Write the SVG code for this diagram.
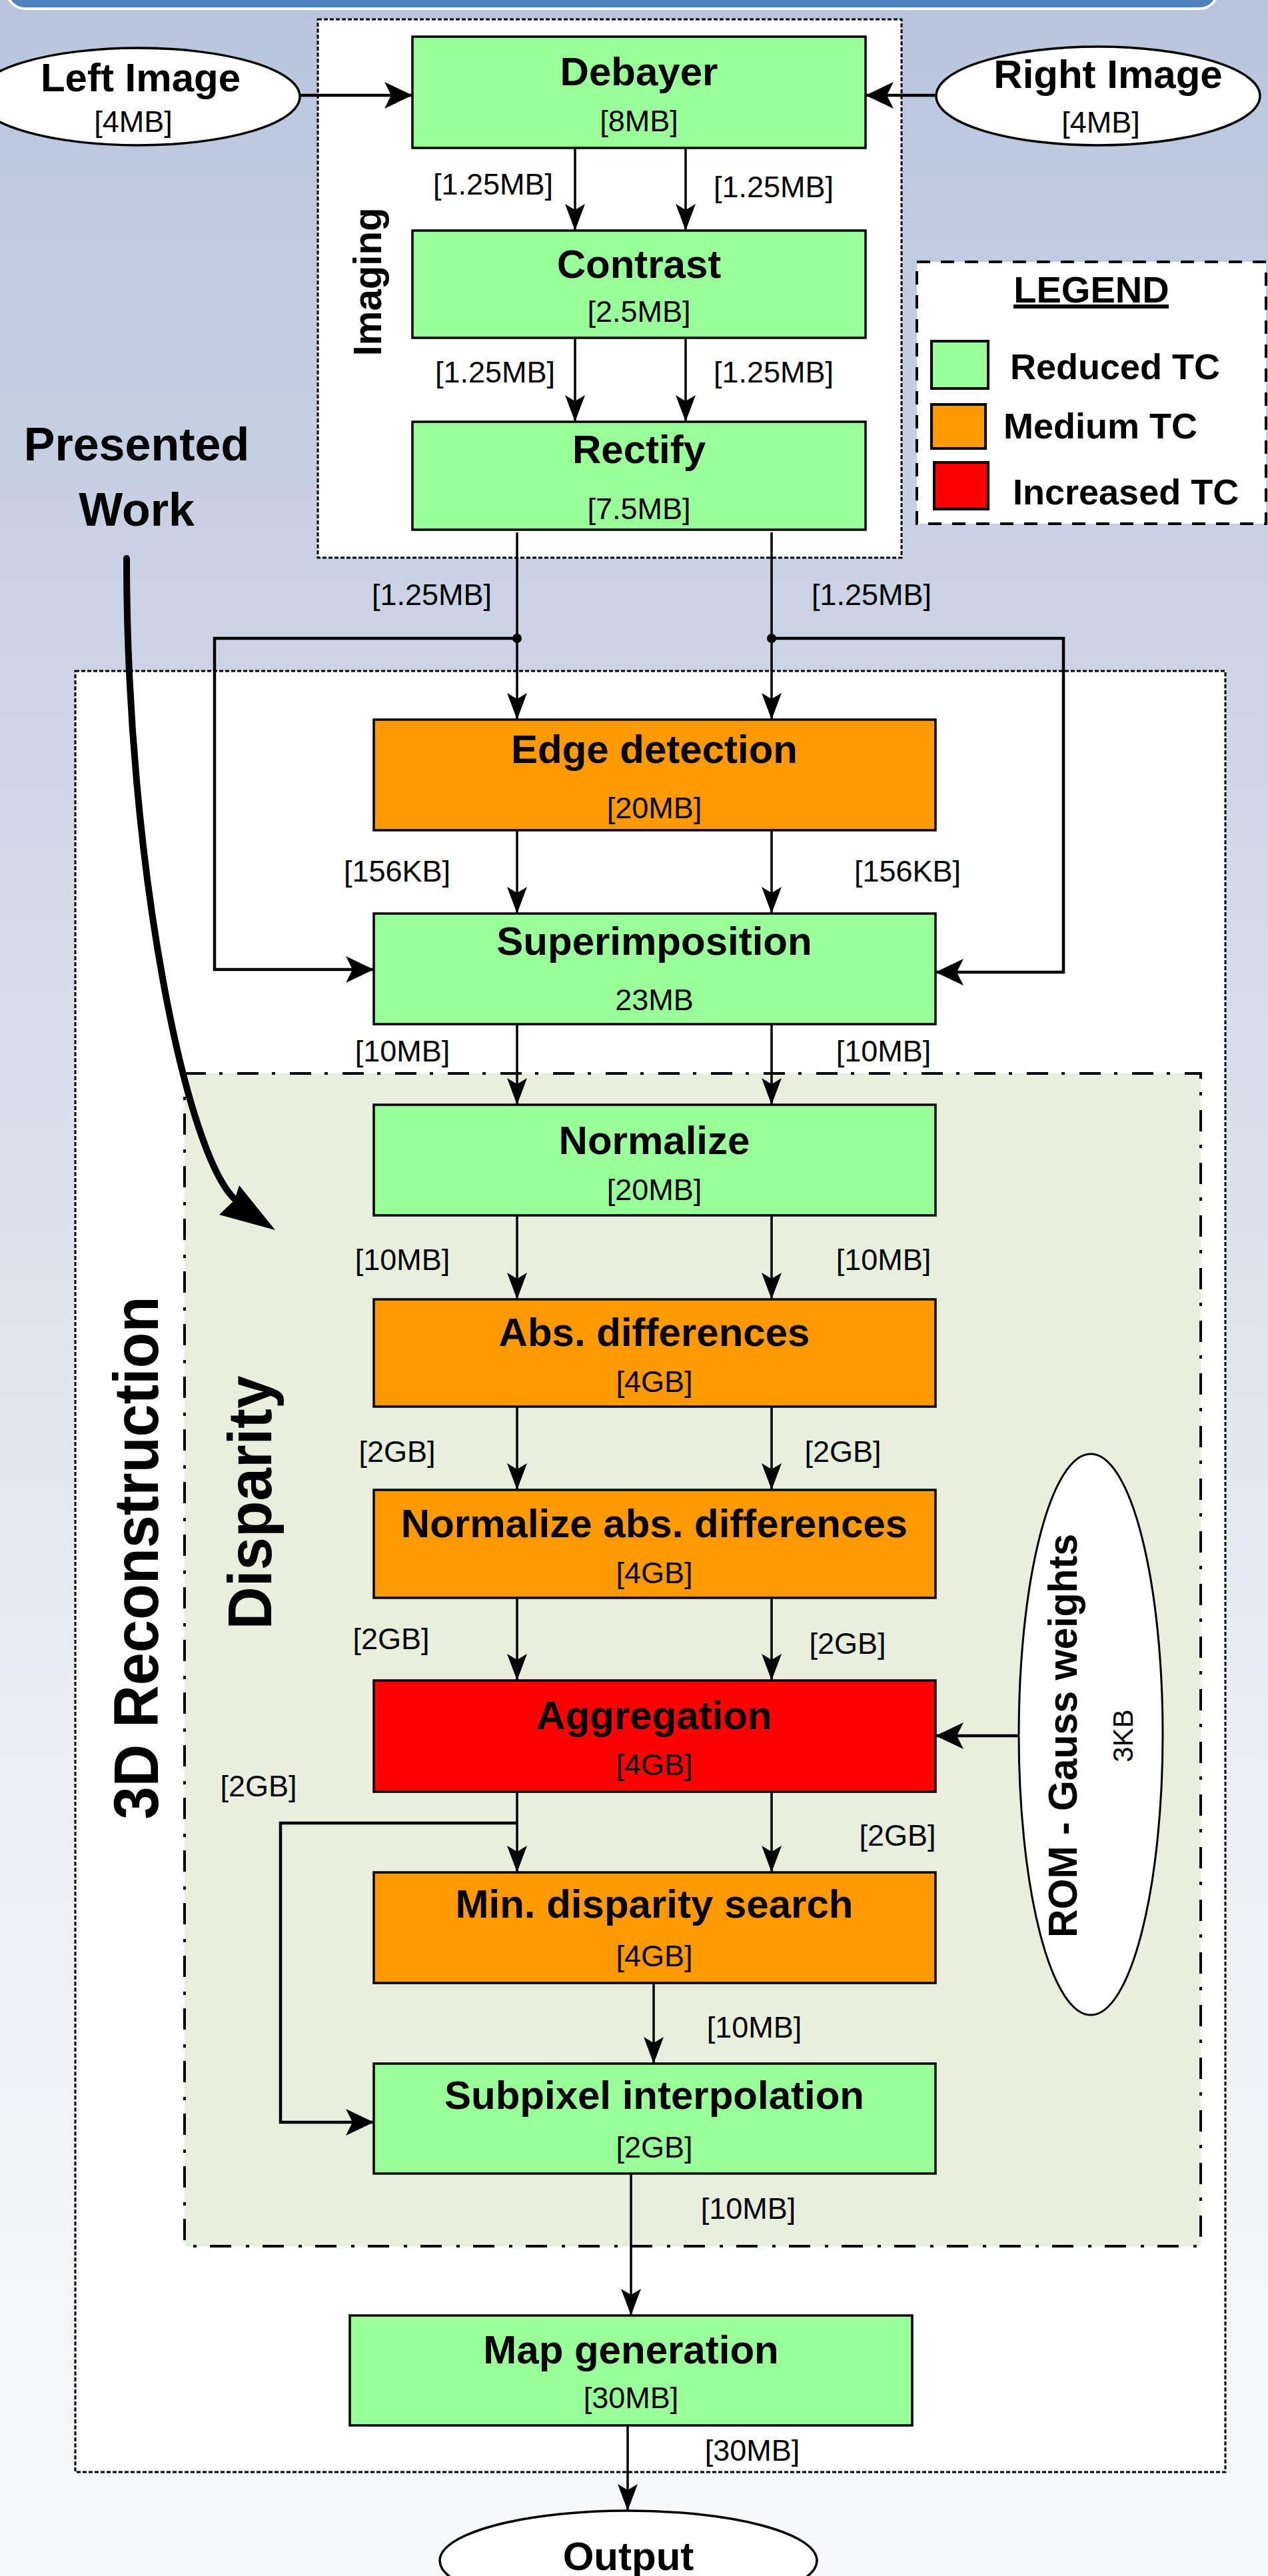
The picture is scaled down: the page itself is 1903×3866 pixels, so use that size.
<svg xmlns="http://www.w3.org/2000/svg" width="1903" height="3866" viewBox="0 0 1903 3866">
<style>
.box{stroke:#000;stroke-width:3.5}
.g{fill:#99ff99}.o{fill:#ff9900}.r{fill:#ff0000}
.t{font-family:"Liberation Sans",Arial,sans-serif;font-weight:bold;font-size:60px;text-anchor:middle;fill:#000}
.s{font-family:"Liberation Sans",Arial,sans-serif;font-size:45px;text-anchor:middle;fill:#000}
.lg{font-family:"Liberation Sans",Arial,sans-serif;font-weight:bold;font-size:54px;fill:#000}
.vt{font-family:"Liberation Sans",Arial,sans-serif;font-weight:bold;text-anchor:middle;fill:#000}
.ln{fill:none;stroke:#000;stroke-width:3.5;marker-end:url(#ah)}
.lt{fill:none;stroke:#000;stroke-width:4.5;marker-end:url(#ahb)}
.cont{fill:#fff;stroke:#000;stroke-width:3;stroke-dasharray:6 3}
.ell{fill:#fff;stroke:#000;stroke-width:3.5}
</style>
<defs>
<linearGradient id="bg" x1="0" y1="0" x2="0" y2="1">
<stop offset="0" stop-color="#b8c5dd"/>
<stop offset="0.35" stop-color="#d3dae8"/>
<stop offset="0.7" stop-color="#eceff5"/>
<stop offset="1" stop-color="#f8f9fb"/>
</linearGradient>
<marker id="ah" viewBox="-42 -17 44 34" markerWidth="44" markerHeight="34" refX="0" refY="0" orient="auto" markerUnits="userSpaceOnUse">
<path d="M0,0 L-40,-15 L-31,0 L-40,15 Z" fill="#000"/>
</marker>
<marker id="ahb" viewBox="-46 -23 48 46" markerWidth="48" markerHeight="46" refX="0" refY="0" orient="auto" markerUnits="userSpaceOnUse">
<path d="M0,0 L-42,-20 L-32,0 L-42,20 Z" fill="#000"/>
</marker>
</defs>

<rect x="0" y="0" width="1903" height="3866" fill="url(#bg)"/>
<rect x="10" y="-60" width="1818" height="73" rx="28" fill="#4f81bd" stroke="#fff" stroke-width="4"/>

<!-- containers -->
<g id="imaging-group">
<rect class="cont" x="477" y="29" width="876" height="808"/>
<text class="vt" style="font-size:60px" transform="translate(572,423) rotate(-90)" textLength="223" lengthAdjust="spacingAndGlyphs">Imaging</text>
</g>
<g id="reconstruction-group">
<rect class="cont" x="113" y="1007" width="1726" height="2703"/>
<text class="vt" style="font-size:95px" transform="translate(237,2338) rotate(-90)" textLength="785" lengthAdjust="spacingAndGlyphs">3D Reconstruction</text>
</g>
<g id="disparity-group">
<rect x="277" y="1611" width="1525" height="1760" fill="#e9efdd" stroke="#000" stroke-width="4" stroke-dasharray="32 20 5 22"/>
<text class="vt" style="font-size:92px" transform="translate(407,2255) rotate(-90)" textLength="381" lengthAdjust="spacingAndGlyphs">Disparity</text>
</g>

<g id="legend">
<rect x="1376" y="393" width="524" height="393" fill="#fff" stroke="#000" stroke-width="4" stroke-dasharray="20 16"/>
<text class="t" x="1638" y="454" style="font-size:56px">LEGEND</text>
<rect x="1521" y="457" width="233" height="6" fill="#000"/>
<rect x="1398" y="512" width="85" height="71" fill="#99ff99" stroke="#000" stroke-width="4"/>
<rect x="1398" y="607" width="81" height="66" fill="#ff9900" stroke="#000" stroke-width="4"/>
<rect x="1402" y="694" width="81" height="70" fill="#ff0000" stroke="#000" stroke-width="4"/>
<text class="lg" x="1516" y="569">Reduced TC</text>
<text class="lg" x="1506" y="658">Medium TC</text>
<text class="lg" x="1520" y="757">Increased TC</text>
</g>

<g id="presented-work">
<text class="t" x="205" y="691" style="font-size:70px">Presented</text>
<text class="t" x="205" y="789" style="font-size:70px">Work</text>
<path d="M190,838 C190,1300 280,1740 355,1802" fill="none" stroke="#000" stroke-width="10" stroke-linecap="round"/>
<polygon points="413,1846 359,1779 352,1801 329,1823" fill="#000"/>
</g>

<!-- connectors -->
<g id="connectors">
<path class="lt" d="M451,143 L619,143"/>
<path class="lt" d="M1405,143 L1299,143"/>
<path class="ln" d="M863,222 L863,346"/>
<path class="ln" d="M1029,222 L1029,346"/>
<path class="ln" d="M863,507 L863,633"/>
<path class="ln" d="M1029,507 L1029,633"/>
<path class="ln" d="M776,799 L776,1080"/>
<path class="ln" d="M1158,799 L1158,1080"/>
<path class="lt" d="M776,958 L322,958 L322,1455 L561,1455"/>
<path class="lt" d="M1158,958 L1596,958 L1596,1459 L1404,1459"/>
<circle cx="776" cy="958" r="7" fill="#000"/>
<circle cx="1158" cy="958" r="7" fill="#000"/>
<path class="ln" d="M776,1246 L776,1371"/>
<path class="ln" d="M1158,1246 L1158,1371"/>
<path class="ln" d="M776,1537 L776,1658"/>
<path class="ln" d="M1158,1537 L1158,1658"/>
<path class="ln" d="M776,1824 L776,1950"/>
<path class="ln" d="M1158,1824 L1158,1950"/>
<path class="ln" d="M776,2111 L776,2236"/>
<path class="ln" d="M1158,2111 L1158,2236"/>
<path class="ln" d="M776,2398 L776,2522"/>
<path class="ln" d="M1158,2398 L1158,2522"/>
<path class="ln" d="M776,2689 L776,2810"/>
<path class="ln" d="M1158,2689 L1158,2810"/>
<path class="lt" d="M776,2736 L421,2736 L421,3185 L561,3185"/>
<path class="lt" d="M1530,2605 L1404,2605"/>
<path class="ln" d="M981,2976 L981,3097"/>
<path class="ln" d="M947,3262 L947,3475"/>
<path class="ln" d="M942,3640 L942,3768"/>
<text class="s" x="740" y="292">[1.25MB]</text>
<text class="s" x="1161" y="296">[1.25MB]</text>
<text class="s" x="743" y="574">[1.25MB]</text>
<text class="s" x="1161" y="574">[1.25MB]</text>
<text class="s" x="648" y="908">[1.25MB]</text>
<text class="s" x="1308" y="908">[1.25MB]</text>
<text class="s" x="596" y="1323">[156KB]</text>
<text class="s" x="1362" y="1323">[156KB]</text>
<text class="s" x="604" y="1593">[10MB]</text>
<text class="s" x="1326" y="1593">[10MB]</text>
<text class="s" x="604" y="1906">[10MB]</text>
<text class="s" x="1326" y="1906">[10MB]</text>
<text class="s" x="596" y="2194">[2GB]</text>
<text class="s" x="1265" y="2194">[2GB]</text>
<text class="s" x="587" y="2475">[2GB]</text>
<text class="s" x="1272" y="2482">[2GB]</text>
<text class="s" x="388" y="2696">[2GB]</text>
<text class="s" x="1347" y="2770">[2GB]</text>
<text class="s" x="1132" y="3058">[10MB]</text>
<text class="s" x="1123" y="3330">[10MB]</text>
<text class="s" x="1129" y="3693">[30MB]</text>
</g>

<!-- nodes -->
<g id="left-image">
<ellipse class="ell" cx="207" cy="145" rx="243" ry="73"/>
<text class="t" x="211" y="137">Left Image</text>
<text class="s" x="200" y="198">[4MB]</text>
</g>
<g id="right-image">
<ellipse class="ell" cx="1648" cy="144" rx="243" ry="74"/>
<text class="t" x="1663" y="132">Right Image</text>
<text class="s" x="1652" y="199">[4MB]</text>
</g>
<g id="debayer">
<rect class="box g" x="619" y="55" width="680" height="167"/>
<text class="t" x="959" y="128">Debayer</text>
<text class="s" x="959" y="197">[8MB]</text>
</g>
<g id="contrast">
<rect class="box g" x="619" y="346" width="680" height="161"/>
<text class="t" x="959" y="417">Contrast</text>
<text class="s" x="959" y="483">[2.5MB]</text>
</g>
<g id="rectify">
<rect class="box g" x="619" y="633" width="680" height="162"/>
<text class="t" x="959" y="695">Rectify</text>
<text class="s" x="959" y="779">[7.5MB]</text>
</g>
<g id="edge-detection">
<rect class="box o" x="561" y="1080" width="843" height="166"/>
<text class="t" x="982" y="1145">Edge detection</text>
<text class="s" x="982" y="1228">[20MB]</text>
</g>
<g id="superimposition">
<rect class="box g" x="561" y="1371" width="843" height="166"/>
<text class="t" x="982" y="1433">Superimposition</text>
<text class="s" x="982" y="1516">23MB</text>
</g>
<g id="normalize">
<rect class="box g" x="561" y="1658" width="843" height="166"/>
<text class="t" x="982" y="1732">Normalize</text>
<text class="s" x="982" y="1801">[20MB]</text>
</g>
<g id="abs-differences">
<rect class="box o" x="561" y="1950" width="843" height="161"/>
<text class="t" x="982" y="2020">Abs. differences</text>
<text class="s" x="982" y="2089">[4GB]</text>
</g>
<g id="normalize-abs">
<rect class="box o" x="561" y="2236" width="843" height="162"/>
<text class="t" x="982" y="2307">Normalize abs. differences</text>
<text class="s" x="982" y="2376">[4GB]</text>
</g>
<g id="aggregation">
<rect class="box r" x="561" y="2522" width="843" height="167"/>
<text class="t" x="982" y="2595">Aggregation</text>
<text class="s" x="982" y="2664">[4GB]</text>
</g>
<g id="rom">
<ellipse cx="1637" cy="2603" rx="108" ry="421" fill="#fff" stroke="#000" stroke-width="3"/>
<text class="vt" style="font-size:61px" transform="translate(1616,2605) rotate(-90)" textLength="606" lengthAdjust="spacingAndGlyphs">ROM - Gauss weights</text>
<text class="s" style="font-size:42px" transform="translate(1700,2605) rotate(-90)">3KB</text>
</g>
<g id="min-disparity">
<rect class="box o" x="561" y="2810" width="843" height="166"/>
<text class="t" x="982" y="2878">Min. disparity search</text>
<text class="s" x="982" y="2951">[4GB]</text>
</g>
<g id="subpixel">
<rect class="box g" x="561" y="3097" width="843" height="165"/>
<text class="t" x="982" y="3165">Subpixel interpolation</text>
<text class="s" x="982" y="3238">[2GB]</text>
</g>
<g id="map-generation">
<rect class="box g" x="525" y="3475" width="844" height="165"/>
<text class="t" x="947" y="3547">Map generation</text>
<text class="s" x="947" y="3614">[30MB]</text>
</g>
<g id="output">
<ellipse class="ell" cx="943" cy="3843" rx="283" ry="75"/>
<text class="t" x="943" y="3857">Output</text>
</g>
</svg>
